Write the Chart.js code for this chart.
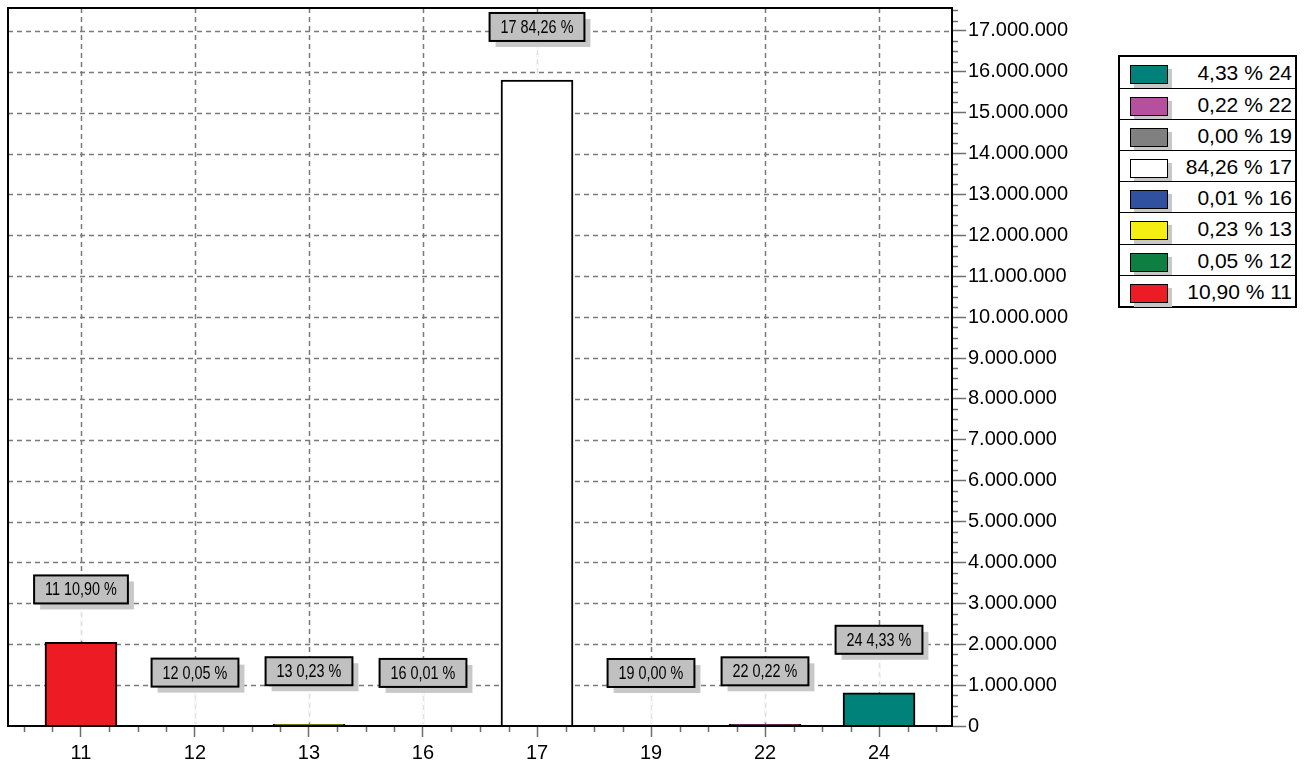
<!DOCTYPE html>
<html lang="pt-BR">
<head>
<meta charset="UTF-8">
<title>Participação por grupo</title>
<script src="https://cdn.jsdelivr.net/npm/chart.js"></script>
<style>
    html, body { margin: 0; padding: 0; background: #fff; }
    body { width: 1305px; height: 765px; position: relative; overflow: hidden;
           font-family: 'Liberation Sans', Arial, sans-serif; }
    #grafico { position: absolute; left: 0; top: 0; }
    .legenda { position: absolute; left: 1118px; top: 55px; width: 179px; height: 253px;
               border: 2px solid #000; box-sizing: border-box; background: #fff; }
    .legenda .linha { position: relative; height: 31.1px; border-top: 1px solid #000; box-sizing: border-box; }
    .legenda .linha:first-child { border-top: none; }
    .legenda .cor { position: absolute; left: 10px; top: 8px; width: 38px; height: 19px;
                    border: 1.5px solid #000; box-sizing: border-box; box-shadow: 4px 4px 0 #c8c8c8; }
    .legenda .txt { position: absolute; right: 3px; top: 0; line-height: 31px; font-size: 21px; color: #000; }
</style>
</head>
<body>
<canvas id="grafico" width="1305" height="765"></canvas>
<div class="legenda" id="legenda"></div>

<script>
    // Dados
    const categorias = ['11', '12', '13', '16', '17', '19', '22', '24'];
    const posicoes = [0, 1, 2, 3, 4, 5, 6, 7];
    const valores = [2044000, 9400, 43100, 1900, 15800000, 600, 41300, 812000];
    const percentuais = [10.90, 0.05, 0.23, 0.01, 84.26, 0.00, 0.22, 4.33];
    const cores = ['#ED1C24', '#0B8040', '#F4EE13', '#3050A0', '#FFFFFF', '#808080', '#B550A0', '#00817A'];
    const ticksY = [0, 1000000, 2000000, 3000000, 4000000, 5000000, 6000000, 7000000, 8000000,
                    9000000, 10000000, 11000000, 12000000, 13000000, 14000000, 15000000, 16000000, 17000000];

    const fonte = "'Liberation Sans', Arial, sans-serif";

    const fmtPct = v => v.toFixed(2).replace('.', ',') + ' %';
    const fmtMilhar = v => String(v).replace(/\B(?=(\d{3})+(?!\d))/g, '.');

    // Legenda (ordem invertida, como no original)
    const leg = document.getElementById('legenda');
    for (let i = categorias.length - 1; i >= 0; i--) {
        const linha = document.createElement('div');
        linha.className = 'linha';
        linha.innerHTML = '<div class="cor" style="background:' + cores[i] + '"></div>' +
            '<div class="txt">' + fmtPct(percentuais[i]) + ' ' + categorias[i] + '</div>';
        leg.appendChild(linha);
    }

    // Grade tracejada atrás das barras
    const gradePlugin = {
        id: 'grade',
        beforeDatasetsDraw(chart) {
            const { ctx, chartArea: a, scales: { x, y } } = chart;
            ctx.save();
            ctx.strokeStyle = '#7a7a7a';
            ctx.lineWidth = 1.5;
            ctx.setLineDash([5, 4]);
            ticksY.forEach(v => {
                if (v === 0) return;
                const py = Math.round(y.getPixelForValue(v)) + 0.5;
                ctx.beginPath(); ctx.moveTo(a.left, py); ctx.lineTo(a.right, py); ctx.stroke();
            });
            posicoes.forEach(v => {
                const px = Math.round(x.getPixelForValue(v)) + 0.5;
                ctx.beginPath(); ctx.moveTo(px, a.top); ctx.lineTo(px, a.bottom); ctx.stroke();
            });
            ctx.restore();
        }
    };

    // Moldura, marcas menores e rótulos das barras
    const rotulosPlugin = {
        id: 'rotulos',
        afterDatasetsDraw(chart) {
            const { ctx, chartArea: a, scales: { x, y } } = chart;
            ctx.save();

            // marcas menores
            ctx.strokeStyle = '#6e6e6e';
            ctx.lineWidth = 1.5;
            for (let v = -0.5; v <= 7.5; v += 0.25) {
                if (Math.abs(v - Math.round(v)) < 0.01) continue;
                const px = Math.round(x.getPixelForValue(v)) + 0.5;
                ctx.beginPath(); ctx.moveTo(px, a.bottom); ctx.lineTo(px, a.bottom + 6); ctx.stroke();
            }
            for (let v = 250000; v <= 17500000; v += 250000) {
                if (v % 1000000 === 0) continue;
                const py = Math.round(y.getPixelForValue(v)) + 0.5;
                ctx.beginPath(); ctx.moveTo(a.right, py); ctx.lineTo(a.right + 6, py); ctx.stroke();
            }

            // moldura
            ctx.strokeStyle = '#000';
            ctx.lineWidth = 2;
            ctx.strokeRect(a.left, a.top, a.right - a.left, a.bottom - a.top);

            // rótulos (fonte estreitada como Arial Narrow)
            const meta = chart.getDatasetMeta(0);
            const esc = 0.8;
            ctx.font = '18px ' + fonte;
            ctx.textAlign = 'center';
            ctx.textBaseline = 'middle';
            meta.data.forEach((bar, i) => {
                const txt = categorias[i] + ' ' + fmtPct(percentuais[i]);
                const w = ctx.measureText(txt).width * esc + 22;
                const h = 28;
                const cx = Math.round(bar.x);
                const y1 = bar.y - 39, y0 = y1 - h, x0 = cx - w / 2;

                // linha guia clara
                ctx.setLineDash([]);
                ctx.strokeStyle = '#fff';
                ctx.lineWidth = 2.5;
                ctx.beginPath(); ctx.moveTo(cx + 0.5, y1); ctx.lineTo(cx + 0.5, bar.y - 2); ctx.stroke();
                ctx.setLineDash([5, 4]);
                ctx.strokeStyle = '#e2e2e2';
                ctx.lineWidth = 1.5;
                ctx.beginPath(); ctx.moveTo(cx + 0.5, y1); ctx.lineTo(cx + 0.5, bar.y - 2); ctx.stroke();
                ctx.setLineDash([]);

                // sombra e caixa
                ctx.fillStyle = '#c8c8c8';
                ctx.fillRect(x0 + 6, y0 + 6, w, h);
                ctx.fillStyle = '#c0c0c0';
                ctx.fillRect(x0, y0, w, h);
                ctx.strokeStyle = '#000';
                ctx.lineWidth = 2;
                ctx.strokeRect(x0, y0, w, h);
                ctx.fillStyle = '#000';
                ctx.save();
                ctx.translate(cx, y0 + h / 2 + 1);
                ctx.scale(esc, 1);
                ctx.fillText(txt, 0, 0);
                ctx.restore();
            });
            ctx.restore();
        }
    };

    Chart.defaults.font.family = fonte;

    new Chart(document.getElementById('grafico'), {
        type: 'bar',
        data: {
            datasets: [{
                data: posicoes.map((p, i) => ({ x: p, y: valores[i] })),
                backgroundColor: cores,
                borderColor: '#000',
                borderWidth: 2,
                barThickness: 72
            }]
        },
        options: {
            responsive: false,
            animation: false,
            layout: { padding: { left: 8, top: 8, right: 233, bottom: 0 } },
            plugins: { legend: { display: false }, tooltip: { enabled: false } },
            scales: {
                x: {
                    type: 'linear', min: -0.64, max: 7.64, offset: false,
                    afterBuildTicks: s => { s.ticks = posicoes.map(v => ({ value: v })); },
                    afterFit: s => { s.height = 39; s.paddingLeft = 0; s.paddingRight = 0; },
                    ticks: { callback: v => categorias[Math.round(v)], color: '#000',
                             font: { size: 20 }, padding: 4, autoSkip: false, maxRotation: 0 },
                    grid: { offset: false, drawOnChartArea: false, tickLength: 11, tickColor: '#6e6e6e', tickWidth: 1.5 },
                    border: { color: '#000', width: 2 }
                },
                y: {
                    position: 'right', min: 0, max: 17560000,
                    afterBuildTicks: s => { s.ticks = ticksY.map(v => ({ value: v })); },
                    afterFit: s => { s.width = 120; s.paddingTop = 0; s.paddingBottom = 0; },
                    ticks: { callback: v => fmtMilhar(v), color: '#000', font: { size: 20 }, padding: 2 },
                    grid: { drawOnChartArea: false, tickLength: 14, tickColor: '#6e6e6e', tickWidth: 1.5 },
                    border: { color: '#000', width: 2 }
                }
            }
        },
        plugins: [gradePlugin, rotulosPlugin]
    });
</script>
</body>
</html>
